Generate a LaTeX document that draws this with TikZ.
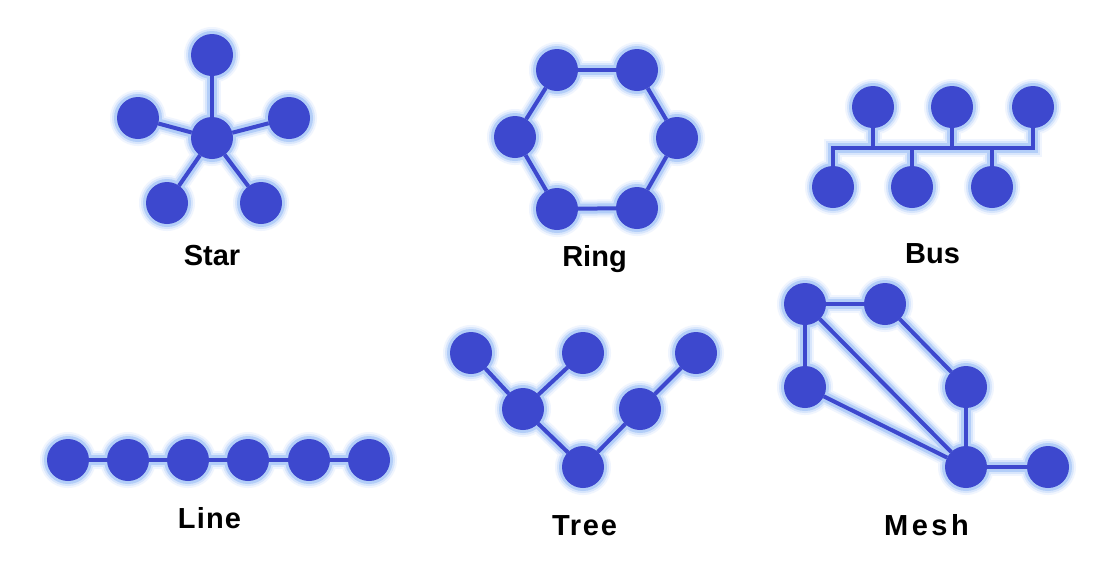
\documentclass[tikz,border=0pt]{standalone}
\usepackage{fontspec}
\setmainfont{Liberation Sans}
\definecolor{nodeblue}{HTML}{3D48CE}
\definecolor{glowA}{HTML}{F0F5FE}
\definecolor{glowB}{HTML}{D8E6FC}
\definecolor{glowC}{HTML}{B3CEF8}
\pgfdeclarelayer{bg}
\pgfdeclarelayer{glow}
\pgfdeclarelayer{edges}
\pgfsetlayers{bg,glow,edges,main}
\newcommand\mynodelist{s0,s1,s2,s3,s4,s5,r1,r2,r3,r4,r5,r6,b1,b2,b3,b4,b5,b6,l1,l2,l3,l4,l5,l6,t1,t2,t3,t4,t5,t6,m1,m2,m3,m4,m5,m6}
\newcommand\myedgelist{s0/s1,s0/s2,s0/s3,s0/s4,s0/s5,r1/r2,r2/r3,r3/r4,r4/r5,r5/r6,r6/r1,l1/l2,l2/l3,l3/l4,l4/l5,l5/l6,t1/t4,t2/t4,t4/t6,t6/t5,t5/t3,m1/m2,m1/m3,m1/m5,m2/m4,m4/m5,m3/m5,m5/m6}
\newcommand\drawmyedges[1]{%
  \foreach \a/\b in \myedgelist {\draw[#1] (\a) -- (\b);}
  \draw[#1] (b4) -- (b4 |- busy) -- (b3 |- busy) -- (b3);
  \draw[#1] (b1) -- (b1 |- busy);
  \draw[#1] (b2) -- (b2 |- busy);
  \draw[#1] (b5) -- (b5 |- busy);
  \draw[#1] (b6) -- (b6 |- busy);
}
\newcommand\glowmylevel[2]{%
  \foreach \n in \mynodelist {\fill[#1] (\n) circle[radius=#2pt];}
  \drawmyedges{draw=#1, line width=#2pt*2-38pt}
}
\begin{document}
\begin{tikzpicture}[x=1pt,y=-1pt,
  nd/.style={circle,fill=nodeblue,minimum size=42pt,inner sep=0pt,outer sep=0pt},
  edge/.style={draw=nodeblue,line width=4pt},
  lbl/.style={font=\fontsize{29}{34}\selectfont\bfseries,anchor=base,inner sep=0pt}]
\useasboundingbox (0,0) rectangle (1100,568);
\begin{pgfonlayer}{bg}
\fill[white] (0,0) rectangle (1100,568);
\end{pgfonlayer}
% Star
\node[nd] (s0) at (212,138) {};
\node[nd] (s1) at (212,55) {};
\node[nd] (s2) at (138,118) {};
\node[nd] (s3) at (289,118) {};
\node[nd] (s4) at (167,203) {};
\node[nd] (s5) at (261,203) {};
% Ring
\node[nd] (r1) at (557,70) {};
\node[nd] (r2) at (637,70) {};
\node[nd] (r3) at (677,138) {};
\node[nd] (r4) at (637,208) {};
\node[nd] (r5) at (557,209) {};
\node[nd] (r6) at (515,137) {};
% Bus
\node[nd] (b1) at (873,107) {};
\node[nd] (b2) at (952,107) {};
\node[nd] (b3) at (1033,107) {};
\node[nd] (b4) at (833,187) {};
\node[nd] (b5) at (912,187) {};
\node[nd] (b6) at (992,187) {};
\coordinate (busy) at (900,148);
% Line
\node[nd] (l1) at (68,460) {};
\node[nd] (l2) at (128,460) {};
\node[nd] (l3) at (188,460) {};
\node[nd] (l4) at (248,460) {};
\node[nd] (l5) at (309,460) {};
\node[nd] (l6) at (369,460) {};
% Tree
\node[nd] (t1) at (471,353) {};
\node[nd] (t2) at (583,353) {};
\node[nd] (t3) at (696,353) {};
\node[nd] (t4) at (523,409) {};
\node[nd] (t5) at (640,409) {};
\node[nd] (t6) at (583,467) {};
% Mesh
\node[nd] (m1) at (805,304) {};
\node[nd] (m2) at (885,304) {};
\node[nd] (m3) at (805,387) {};
\node[nd] (m4) at (966,387) {};
\node[nd] (m5) at (966,467) {};
\node[nd] (m6) at (1048,467) {};
% glow
\begin{pgfonlayer}{glow}
\glowmylevel{glowA}{28}
\glowmylevel{glowB}{26}
\glowmylevel{glowC}{24}
\end{pgfonlayer}
% edges
\begin{pgfonlayer}{edges}
\drawmyedges{edge}
\end{pgfonlayer}
% labels
\node[lbl] (lstar) at (212,265) {Star};
\node[lbl] (lring) at (594.5,266) {Ring};
\node[lbl] (lbus) at (932.5,263) {Bus};
\node[lbl] (lline) at (209.5,528) {\addfontfeature{LetterSpace=4}Line};
\node[lbl] (ltree) at (584.5,535) {\addfontfeature{LetterSpace=6}Tree};
\node[lbl] (lmesh) at (926.5,535) {\addfontfeature{LetterSpace=12}Mesh};
\end{tikzpicture}
\end{document}
